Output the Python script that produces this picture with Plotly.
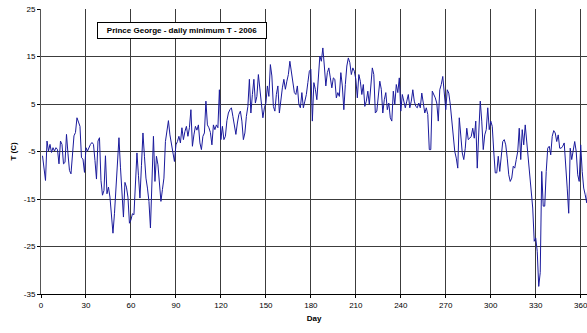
import plotly.graph_objects as go

# Daily minimum temperature, Prince George 2006
t_jan = [-5.9, -8.5, -11.1, -2.8, -4.9, -3.5, -5.2, -4.2, -4.9, -4.2, -4.6, -7.6, -2.8, -3.5, -7.6,
         -7.3, -1.4, -5.5, -9.0, -9.7, -5.0, -1.7, -1.0, 2.1, 1.2, 0.3, -6.3, -6.6, -9.4, -4.2]
t_d31 = [-4.9, -4.0, -3.5, -3.1, -3.5, -6.9, -10.8, -2.8, -2.1, -11.1, -14.2, -13.2, -5.9, -13.9, -12.5,
         -14.6, -18.0, -22.2, -18.1, -12.0, -6.3, -2.1, -8.3, -13.0, -18.8, -11.5, -12.5, -14.6, -20.1, -19.4]
t_d61 = [-18.1, -18.3, -11.8, -5.3, -10.0, -14.8, -8.0, -1.1, -6.0, -10.6, -12.7, -15.5, -21.1, -10.0, -1.8,
         -11.3, -6.0, -7.8, -11.0, -15.5, -13.0, -10.6, -2.9, 0.0, 1.5, -1.5, -3.2, -5.0, -7.1, -3.6]
t_d91 = [-2.9, -1.8, -3.2, 0.0, -2.5, -0.8, 0.3, -1.8, 0.0, 3.8, -3.9, -1.5, 0.3, -0.5, 0.6,
         -3.2, -4.6, -1.8, -1.1, 5.6, 0.6, 0.0, -1.0, -3.6, 0.6, -0.4, 0.6, 0.0, 8.0, -2.5]
t_d121 = [0.3, -2.5, -1.8, 1.5, 3.1, 3.8, 4.2, 2.4, 0.7, -1.4, 1.0, 2.8, 3.5, 1.4, -2.5,
          -1.1, 2.4, 4.5, 10.2, 3.1, 7.0, 10.2, 5.2, 6.6, 11.2, 8.1, 5.2, 2.1, 4.2, 5.2]
t_d151 = [8.8, 6.6, 13.3, 10.9, 4.5, 3.5, 7.0, 8.8, 3.1, 6.3, 8.4, 10.2, 8.1, 9.8, 11.2,
          14.0, 11.6, 9.5, 7.4, 7.0, 8.8, 4.9, 4.2, 7.4, 4.2, 5.6, 7.0, 9.5, 11.9, 12.3]
t_d181 = [1.4, 9.5, 8.1, 5.9, 10.2, 15.1, 14.0, 16.8, 13.0, 8.8, 11.6, 12.6, 10.5, 8.4, 10.5,
          10.2, 6.3, 7.4, 6.6, 11.6, 8.8, 3.8, 9.1, 13.0, 14.7, 13.7, 11.2, 12.6, 11.9, 10.2]
t_d211 = [6.3, 11.2, 9.8, 7.0, 9.1, 4.5, 5.6, 7.7, 4.9, 9.8, 12.6, 11.2, 3.1, 3.5, 7.0,
          9.8, 8.1, 3.1, 5.9, 7.4, 3.8, 5.2, 2.1, 1.4, 7.7, 4.9, 9.1, 7.4, 10.5, 3.5]
t_d241 = [7.0, 5.2, 4.2, 5.6, 7.0, 4.2, 5.6, 8.0, 5.6, 4.5, 4.2, 5.2, 4.2, 7.3, 4.9,
          3.1, 4.2, 2.8, -4.6, -4.6, 7.7, 7.0, 6.3, 5.2, 1.4, 8.0, 9.1, 10.8, 8.0, 3.8]
t_d271 = [8.0, 7.3, 4.9, 1.4, -1.5, -5.0, -6.4, -8.5, 2.1, -1.5, -5.3, -6.7, -4.3, -0.1, -2.5,
          -2.2, -1.8, -0.1, -2.2, 1.4, -8.5, -1.1, 5.6, 1.4, -4.6, -1.5, -0.4, 4.2, -0.4]
t_d300 = [1.4, 0.3, -5.0, -9.5, -9.5, -6.0, -9.2, -5.0, -2.9, -2.5, -3.6, -6.4, -9.9, -11.3, -10.6,
          -8.1, -8.5, -6.7, -5.0, -0.1, -6.7, -0.4, -3.6, 0.6, -2.9, -6.4, -9.9, -13.0, -16.9, -23.9, -23.2]
t_d331 = [-26.0, -33.4, -30.5, -9.2, -16.5, -16.5, -9.2, -4.3, -3.9, -5.7, -1.8, -0.6, -1.1, -2.9, -1.5,
          -4.3, -4.3, -3.9, -3.2, -7.1, -12.7, -18.0, -4.3, -6.7, -4.3, -2.9, -5.0, -9.9, -11.3, -3.6,
          -9.2, -12.7, -14.1, -15.8, -11.3]

tmin = t_jan + t_d31 + t_d61 + t_d91 + t_d121 + t_d151 + t_d181 + t_d211 + t_d241 + t_d271 + t_d300 + t_d331
days = list(range(1, len(tmin) + 1))

x_ticks = [0, 30, 60, 90, 120, 150, 180, 210, 240, 270, 300, 330, 360]
y_ticks = [25, 15, 5, -5, -15, -25, -35]

title_text = "Prince George - daily minimum T - 2006"

FONT = "Arial, 'Liberation Sans', sans-serif"
GRID = "#3c3c3c"

fig = go.Figure()
fig.add_trace(go.Scatter(x=days, y=tmin, mode="lines",
                         line=dict(color="#1a1a9c", width=1), showlegend=False,
                         hoverinfo="skip"))

fig.update_layout(
    width=587, height=333,
    margin=dict(l=41, r=0, t=9, b=39),
    paper_bgcolor="white", plot_bgcolor="white",
    font=dict(family=FONT, size=8, color="#000"),
    xaxis=dict(range=[0, 364.2], tickvals=x_ticks, ticktext=[str(v) for v in x_ticks],
               showgrid=True, gridcolor=GRID, gridwidth=1,
               showline=True, linecolor="#000", linewidth=1,
               ticks="outside", ticklen=3, tickcolor="#000",
               tickfont=dict(size=8, family=FONT, color="#000"),
               ticklabeloverflow="allow",
               zeroline=False,
               title=dict(text="<b>Day</b>", font=dict(size=8, family=FONT), standoff=6)),
    yaxis=dict(range=[-35, 25], tickvals=y_ticks, ticktext=[str(v) for v in y_ticks],
               showgrid=True, gridcolor=GRID, gridwidth=1,
               showline=True, linecolor="#555", linewidth=1,
               ticks="outside", ticklen=3, tickcolor="#000",
               tickfont=dict(size=8, family=FONT, color="#000"),
               ticklabeloverflow="allow",
               zeroline=False,
               title=dict(text="<b>T (C)</b>", font=dict(size=8, family=FONT), standoff=6)),
    annotations=[dict(text="<b>" + title_text + "</b>", xref="paper", yref="paper",
                      x=(182 - 41) / 546, y=(294 - 30) / 285, xanchor="center", yanchor="middle",
                      showarrow=False, font=dict(size=8, family=FONT, color="#000"),
                      bgcolor="white", bordercolor="#000", borderwidth=1, borderpad=2,
                      width=164, height=11)],
)

fig.write_html("out.html")
